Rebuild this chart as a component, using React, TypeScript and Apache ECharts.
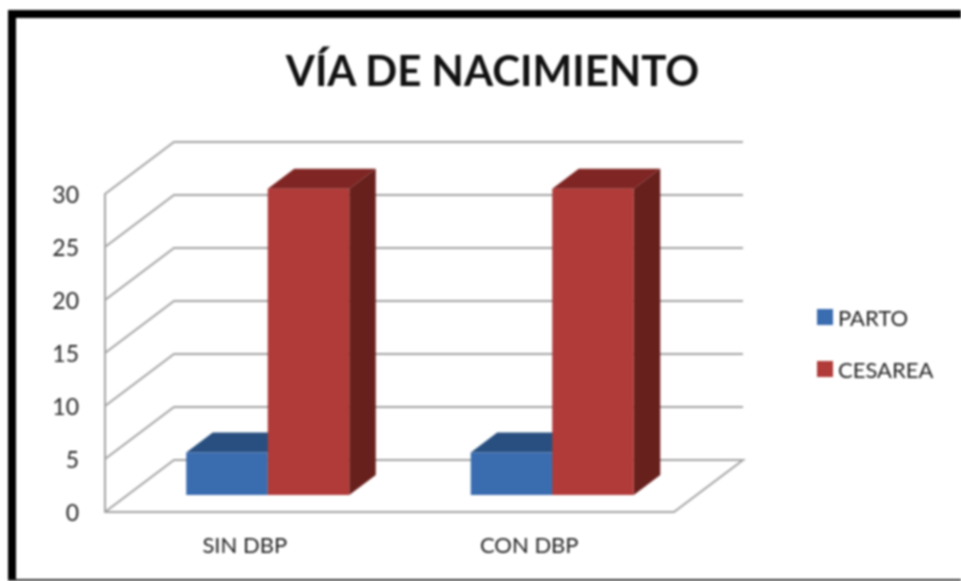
import React, { useEffect, useRef } from "react";
import * as echarts from "echarts";

const titleText = "VÍA DE NACIMIENTO";
const categories = ["SIN DBP", "CON DBP"];
const seriesNames = ["PARTO", "CESAREA"];
const partoValues = [4, 4];
const cesareaValues = [28.9, 28.9];
const wallTicks = [0, 5, 10, 15, 20, 25, 30];

const FONT = "Lato";
const DEPTH_X = 69;
const DEPTH_Y = 52;
const BAR_W = 81.5;
const BAR_IN_X = 20.5;
const BAR_IN_Y = 17;
const BAR_DX = 26.5;
const BAR_DY = 20;
const GRID = "#a3a3a3";

const wallItem = (params: any, api: any) => {
  const cs = params.coordSys;
  const v = api.value(1);
  const y = api.coord([0, v])[1];
  const x0 = cs.x;
  const x1 = cs.x + cs.width;
  const pts = [
    [x0, y],
    [x0 + DEPTH_X, y - DEPTH_Y],
    [x1 + DEPTH_X, y - DEPTH_Y],
  ];
  if (v === 0) pts.push([x1, y]);
  return {
    type: "polyline",
    shape: { points: pts },
    style: { fill: "none", stroke: GRID, lineWidth: 2 },
  };
};

const barItem = (colors: string[], side: number) => (_params: any, api: any) => {
  const cat = api.value(0);
  const val = api.value(1);
  const cx = api.coord([cat, 0])[0] + BAR_IN_X;
  const bottom = api.coord([cat, 0])[1] - BAR_IN_Y;
  const top = api.coord([cat, val])[1] - BAR_IN_Y;
  const l = side === 0 ? cx - BAR_W : cx;
  const r = l + BAR_W;
  return {
    type: "group",
    children: [
      {
        type: "polygon",
        shape: { points: [[l, top], [l + BAR_DX, top - BAR_DY], [r + BAR_DX, top - BAR_DY], [r, top]] },
        style: { fill: colors[1] },
      },
      {
        type: "polygon",
        shape: { points: [[r, top], [r + BAR_DX, top - BAR_DY], [r + BAR_DX, bottom - BAR_DY], [r, bottom]] },
        style: { fill: colors[2] },
      },
      {
        type: "rect",
        shape: { x: l, y: top, width: BAR_W, height: bottom - top },
        style: { fill: colors[0] },
      },
    ],
  };
};

export default function App() {
  const ref = useRef<HTMLDivElement>(null);
  useEffect(() => {
    const chart = echarts.init(ref.current!, null, { renderer: "svg" });
    chart.setOption({
      animation: false,
      backgroundColor: "#ffffff",
      title: {
        text: titleText,
        left: 487.5,
        top: 44,
        textAlign: "center",
        textStyle: { fontFamily: FONT, fontSize: 42, fontWeight: "bold", color: "#111111" },
      },
      legend: {
        orient: "vertical",
        left: 812,
        top: 299,
        itemWidth: 16,
        itemHeight: 16,
        itemGap: 26,
        icon: "rect",
        data: seriesNames,
        textStyle: { fontFamily: FONT, fontSize: 22, color: "#222222", lineHeight: 26 },
      },
      grid: { left: 105, right: 287, top: 194, bottom: 69 },
      xAxis: {
        type: "category",
        data: categories,
        axisLine: { lineStyle: { color: GRID, width: 2 } },
        axisTick: { show: false },
        axisLabel: { fontFamily: FONT, fontSize: 22, color: "#222222", margin: 21, padding: [0, 5, 0, 0] },
      },
      yAxis: {
        type: "value",
        min: 0,
        max: 30,
        interval: 5,
        splitLine: { show: false },
        axisTick: { show: false },
        axisLine: { show: true, lineStyle: { color: GRID, width: 2 } },
        axisLabel: { fontFamily: FONT, fontSize: 23, color: "#222222", margin: 26, padding: [9, 0, 0, 0] },
      },
      graphic: [
        {
          type: "group",
          silent: true,
          children: [
            { type: "rect", shape: { x: 8, y: 10, width: 953, height: 8 }, style: { fill: "#000000" } },
            { type: "rect", shape: { x: 8, y: 10, width: 8, height: 571 }, style: { fill: "#000000" } },
            { type: "rect", shape: { x: 8, y: 579, width: 953, height: 2 }, style: { fill: "#333333" } },
          ],
        },
      ],
      series: [
        {
          type: "custom",
          name: "walls",
          silent: true,
          clip: false,
          renderItem: wallItem,
          data: wallTicks.map((t) => [0, t]),
          encode: { x: 0, y: 1 },
          z: 1,
        },
        {
          type: "custom",
          name: seriesNames[0],
          clip: false,
          itemStyle: { color: "#3a6cb0" },
          renderItem: barItem(["#3a6cb0", "#284f80", "#24466f"], 0),
          data: partoValues.map((v, i) => [i, v]),
          encode: { x: 0, y: 1 },
          z: 2,
        },
        {
          type: "custom",
          name: seriesNames[1],
          clip: false,
          itemStyle: { color: "#b03b38" },
          renderItem: barItem(["#b03b38", "#7f2523", "#68201d"], 1),
          data: cesareaValues.map((v, i) => [i, v]),
          encode: { x: 0, y: 1 },
          z: 3,
        },
      ],
    });
    return () => chart.dispose();
  }, []);
  return (
    <div
      ref={ref}
      style={{ position: "absolute", left: 0, top: 0, width: 961, height: 581, filter: "blur(1.1px)" }}
    />
  );
}
